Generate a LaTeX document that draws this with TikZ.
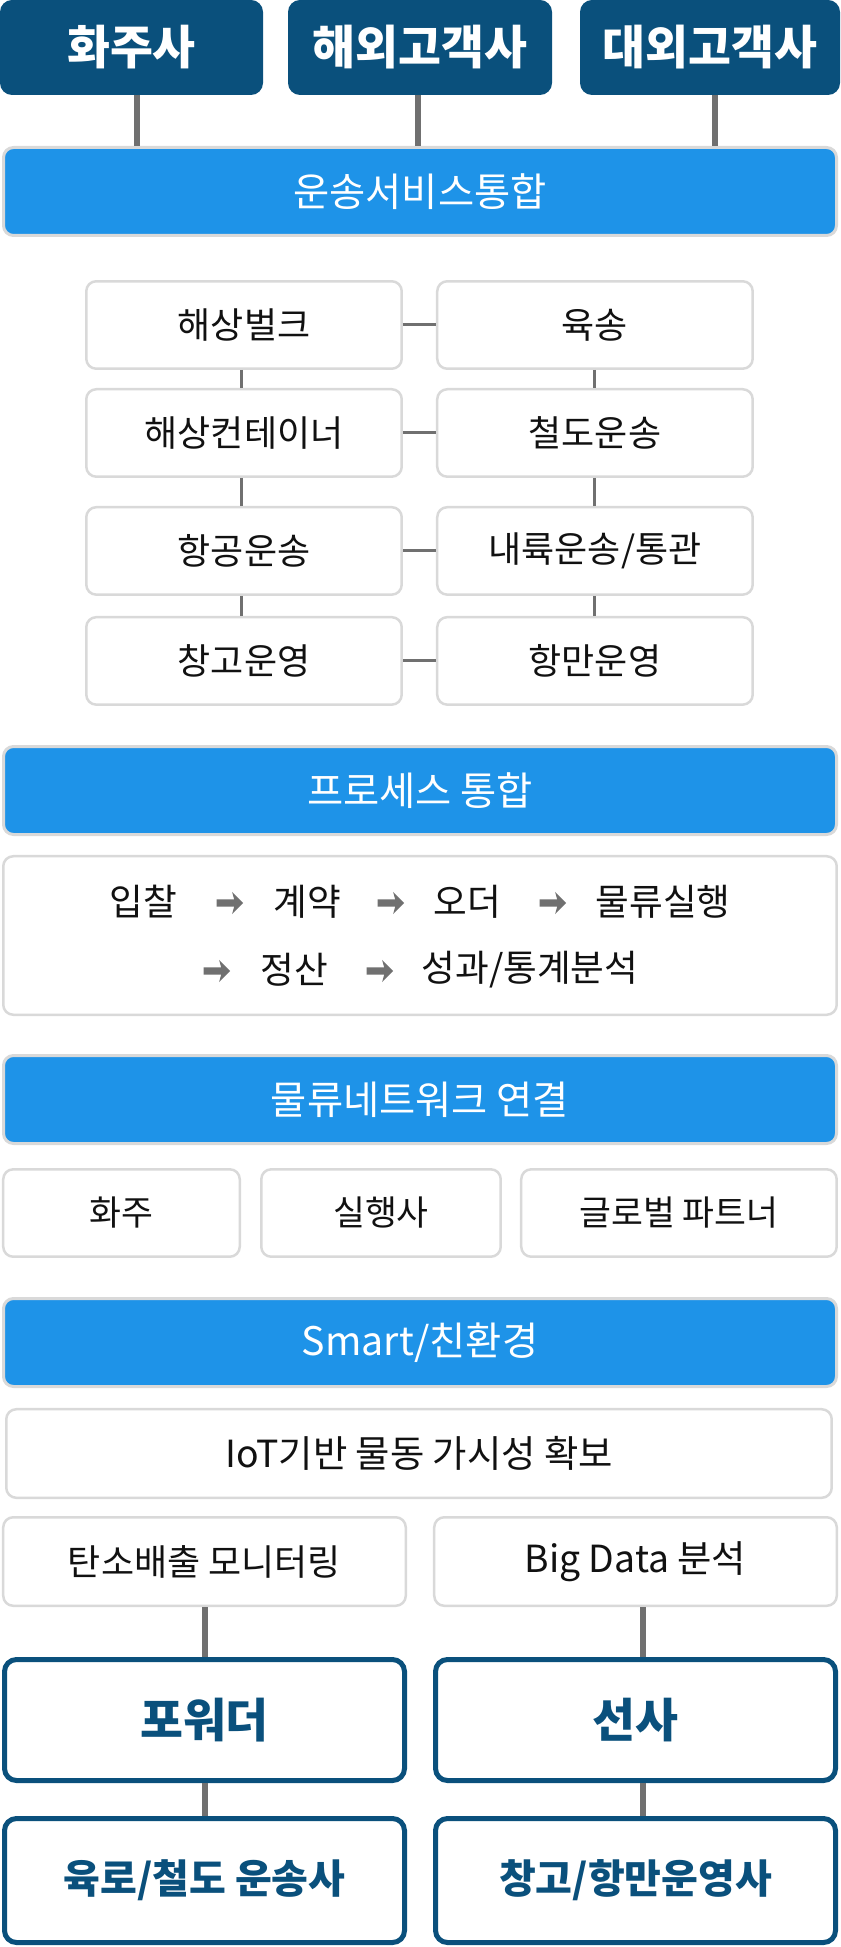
\documentclass[tikz,border=0pt]{standalone}
\usepackage{fontspec}
\setmainfont{Noto Sans CJK KR}
\usepackage{tikz}
\usetikzlibrary{positioning,shapes.arrows}
\usepackage{xcolor}
\definecolor{navyblue}{RGB}{10,80,124}
\definecolor{layerblue}{RGB}{30,147,232}
\definecolor{framegray}{RGB}{217,217,217}
\definecolor{linkgray}{RGB}{112,112,112}
\definecolor{inkblack}{RGB}{17,17,17}

\begin{document}
\begin{tikzpicture}[
        x=0.75pt, y=-0.75pt,
        party/.style={
            rectangle,
            rounded corners=9pt,
            fill=navyblue,
            draw=none,
            inner sep=0pt,
            minimum height=71.25pt,
            text=white,
            font=\fontsize{35pt}{40pt}\selectfont\bfseries
        },
        layer/.style={
            rectangle,
            rounded corners=7.5pt,
            fill=layerblue,
            draw=framegray,
            line width=2.25pt,
            inner sep=0pt,
            minimum width=624.75pt,
            minimum height=66pt,
            text=white,
            font=\fontsize{29.5pt}{34pt}\selectfont
        },
        item/.style={
            rectangle,
            rounded corners=7.5pt,
            fill=white,
            draw=framegray,
            line width=1.875pt,
            inner sep=0pt,
            minimum height=65.6pt,
            text=inkblack,
            font=\fontsize{27pt}{32pt}\selectfont
        },
        netbox/.style={
            item,
            font=\fontsize{26pt}{30pt}\selectfont
        },
        stage/.style={
            inner sep=0pt,
            text=inkblack,
            font=\fontsize{27.5pt}{32pt}\selectfont
        },
        flow/.style={
            single arrow,
            fill=linkgray,
            draw=none,
            inner sep=2.6pt,
            minimum height=20pt,
            single arrow head extend=5.5pt,
            single arrow head indent=1.5pt
        },
        keybox/.style={
            rectangle,
            rounded corners=9pt,
            fill=white,
            draw=navyblue,
            line width=3.75pt,
            inner sep=0pt,
            minimum width=300pt,
            text=navyblue,
            font=\fontsize{35pt}{40pt}\selectfont\bfseries
        },
        link/.style={
            draw=linkgray,
            line width=2.25pt
        },
        thicklink/.style={
            draw=linkgray,
            line width=4.5pt
        }
    ]
    \useasboundingbox (0,0) rectangle (840,1947);

    % Customers (top)
    \node[party, minimum width=197.25pt] (shipper) at (131.5,47.5) {화주사};
    \node[party, minimum width=198pt] (overseas) at (420,47.5) {해외고객사};
    \node[party, minimum width=195pt] (external) at (710,47.5) {대외고객사};

    % Transport service layer
    \node[layer] (svc) at (420,191.5) {운송서비스통합};

    \draw[thicklink] ([xshift=4pt]shipper.south) -- ([xshift=4pt]shipper.south |- svc.north);
    \draw[thicklink] ([xshift=-1.5pt]overseas.south) -- ([xshift=-1.5pt]overseas.south |- svc.north);
    \draw[thicklink] ([xshift=3.75pt]external.south) -- ([xshift=3.75pt]external.south |- svc.north);

    % Transport modes (two columns)
    \node[item, minimum width=236.6pt] (bulk) at (244,325) {해상벌크};
    \node[item, minimum width=236.6pt, below=13.5pt of bulk] (container) {해상컨테이너};
    \node[item, minimum width=236.6pt, below=21pt of container] (air) {항공운송};
    \node[item, minimum width=236.6pt, below=15pt of air] (storage) {창고운영};
    \node[item, minimum width=236.6pt, right=24.75pt of bulk] (road) {육송};
    \node[item, minimum width=236.6pt, right=24.75pt of container] (rail) {철도운송};
    \node[item, minimum width=236.6pt, right=24.75pt of air] (inland) {내륙운송/통관};
    \node[item, minimum width=236.6pt, right=24.75pt of storage] (port) {항만운영};

    \draw[link] ([xshift=-2.25pt]bulk.south) -- ([xshift=-2.25pt]container.north);
    \draw[link] ([xshift=-2.25pt]container.south) -- ([xshift=-2.25pt]air.north);
    \draw[link] ([xshift=-2.25pt]air.south) -- ([xshift=-2.25pt]storage.north);
    \draw[link] (road) -- (rail);
    \draw[link] (rail) -- (inland);
    \draw[link] (inland) -- (port);
    \draw[link] (bulk) -- (road);
    \draw[link] (container) -- (rail);
    \draw[link] (air) -- (inland);
    \draw[link] (storage) -- (port);

    % Process layer
    \node[layer] (procbar) at (420,790.5) {프로세스 통합};
    \node[item, minimum width=625.1pt, minimum height=118.9pt] (proc) at (420,935.5) {};
    \node[stage] (bid) at (143,902) {입찰};
    \node[flow] (f1) at (228,903) {};
    \node[stage] (contract) at (307,902) {계약};
    \node[flow] (f2) at (389,903) {};
    \node[stage] (order) at (467,902) {오더};
    \node[flow] (f3) at (551,903) {};
    \node[stage] (execute) at (663,902) {물류실행};
    \node[flow] (f4) at (215,971) {};
    \node[stage] (settle) at (294,970) {정산};
    \node[flow] (f5) at (378,971) {};
    \node[stage] (report) at (530,970) {성과/통계분석};

    % Network layer
    \node[layer] (netbar) at (420,1099.5) {물류네트워크 연결};
    \node[netbox, minimum width=177.4pt] (owner) at (121.5,1213) {화주};
    \node[netbox, minimum width=179.6pt, right=14.25pt of owner] (executor) {실행사};
    \node[netbox, minimum width=236.6pt, right=13.5pt of executor] (partner) {글로벌 파트너};

    % Smart / green layer
    \node[layer] (smartbar) at (420,1342.5) {Smart/친환경};
    \node[item, minimum width=619.1pt, minimum height=66.4pt, font=\fontsize{28pt}{32pt}\selectfont] (iot) at (419,1453.5) {IoT기반 물동 가시성 확보};
    \node[item, minimum width=301.9pt, minimum height=66.4pt] (carbon) at (204.5,1561.5) {탄소배출 모니터링};
    \node[item, minimum width=301.9pt, minimum height=66.4pt, font=\fontsize{28pt}{32pt}\selectfont] (bigdata) at (635.5,1561.5) {Big Data 분석};

    % Forwarders and carriers (bottom)
    \node[keybox, minimum height=90.75pt] (forwarder) at (204.5,1720) {포워더};
    \node[keybox, minimum height=90.75pt] (carrier) at (635.5,1720) {선사};
    \node[keybox, minimum height=93pt, font=\fontsize{30pt}{34pt}\selectfont\bfseries] (landrail) at (204.5,1880.5) {육로/철도 운송사};
    \node[keybox, minimum height=93pt, font=\fontsize{30pt}{34pt}\selectfont\bfseries] (terminal) at (635.5,1880.5) {창고/항만운영사};

    \draw[thicklink] (carbon) -- (forwarder);
    \draw[thicklink] ([xshift=5.5pt]bigdata.south) -- ([xshift=5.5pt]carrier.north);
    \draw[thicklink] (forwarder) -- (landrail);
    \draw[thicklink] ([xshift=5.5pt]carrier.south) -- ([xshift=5.5pt]terminal.north);

\end{tikzpicture}
\end{document}
